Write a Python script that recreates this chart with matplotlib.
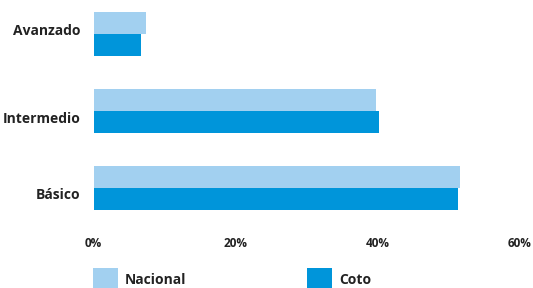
import matplotlib
matplotlib.use('Agg')
import matplotlib.pyplot as plt
import numpy as np

categories = ['Básico', 'Intermedio', 'Avanzado']
nacional = [51.6, 39.8, 7.4]
coto = [51.3, 40.2, 6.7]
xticks = [0, 20, 40, 60]
xticklabels = ['0%', '20%', '40%', '60%']

c_nac = '#a2d0f0'
c_coto = '#0095da'
txt = '#222222'
plt.rcParams['font.family'] = ['Open Sans', 'DejaVu Sans']

W, H = 533, 288
fig = plt.figure(figsize=(W / 100, H / 100), dpi=100)
# axes in pixel coords: x 93.5..519.5, y from top 3..230
left, right, top, bottom = 93.5, 519.5, 3.2, 230.35
ax = fig.add_axes([left / W, 1 - bottom / H, (right - left) / W, (bottom - top) / H])

y = np.arange(len(categories))
h = 0.286
ax.barh(y + h / 2, nacional, height=h, color=c_nac, label='Nacional')
ax.barh(y - h / 2, coto, height=h, color=c_coto, label='Coto')

ax.set_xlim(0, 60)
ax.set_ylim(-0.55, 2.4)
ax.set_xticks(xticks)
ax.set_xticklabels(xticklabels, fontsize=8.5, fontweight='bold', color=txt)
# labels in the original sit a little off the group centres
label_shift = np.array([-0.065, -0.084, 0.058])
ax.set_yticks(y + label_shift)
ax.set_yticklabels(categories, fontsize=10, fontweight='bold', color=txt)
ax.tick_params(length=0, axis='x', pad=5)
ax.tick_params(length=0, axis='y', pad=9.5)
for s in ax.spines.values():
    s.set_visible(False)

# legend sits at the bottom edge, patches run off the figure
fig.legend(loc='upper left', bbox_to_anchor=(93 / W, 1 - 268 / H), ncol=2, frameon=False,
           prop={'weight': 'bold', 'size': 10}, handlelength=1.8, handleheight=2.3,
           handletextpad=0.5, columnspacing=8.7, borderpad=0, borderaxespad=0)
for t in fig.legends[0].get_texts():
    t.set_color(txt)

plt.savefig('out.png', dpi=100)
